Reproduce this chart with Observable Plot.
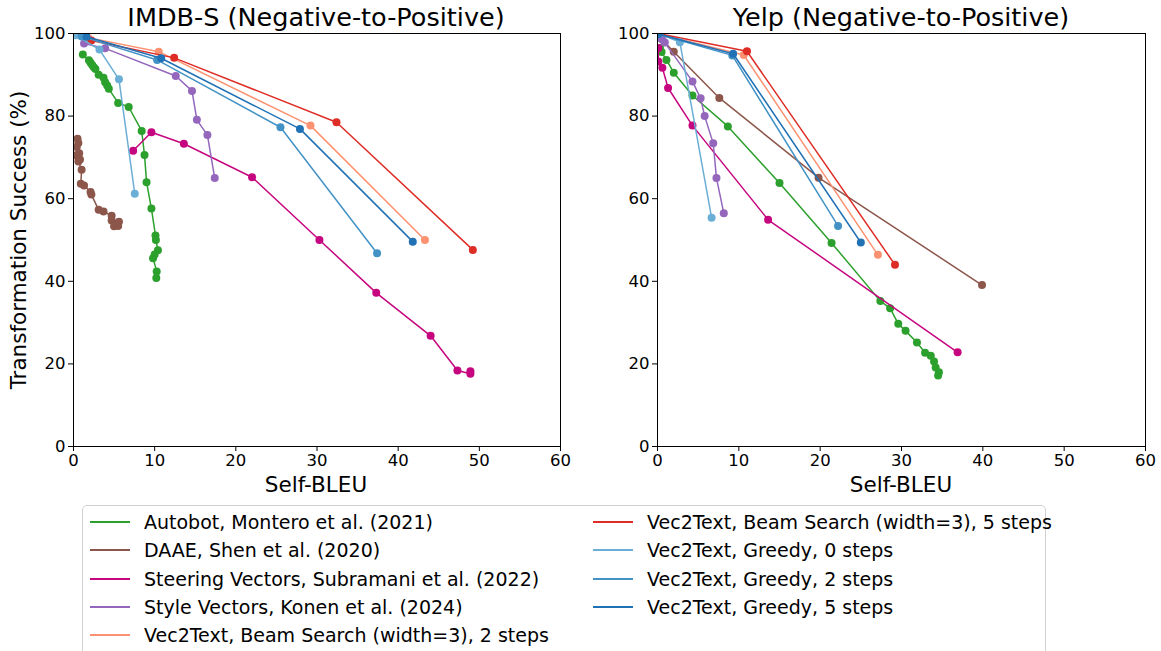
<!DOCTYPE html>
<html><head><meta charset="utf-8">
<script src="https://cdn.jsdelivr.net/npm/d3@7"></script>
<script src="https://cdn.jsdelivr.net/npm/@observablehq/plot@0.6"></script>
<style>
body{margin:0;background:#fff;font-family:"DejaVu Sans",sans-serif;}
#wrap{position:relative;width:1161px;height:651px;overflow:hidden;background:#fff;}
.abs{position:absolute;white-space:nowrap;color:#000;}
.title{font-size:25.5px;transform:translate(-50%,-50%);}
.xlab{font-size:21.5px;transform:translate(-50%,-50%);}
.ylab{font-size:21.5px;transform:translate(-50%,-50%) rotate(-90deg);}
#legend{position:absolute;left:82px;top:505px;width:964px;height:170px;border:1px solid #d0d0d0;border-radius:5px;box-sizing:border-box;background:#fff;}
.li{position:absolute;font-size:19px;line-height:20px;}
.li .sw{position:absolute;left:0;top:9px;width:40px;height:0;border-top:2px solid;}
.li .tx{position:absolute;left:54px;top:0;white-space:nowrap;}
</style></head><body><div id="wrap"></div>
<script>
// ---- series (legend order) ----
const seriesNames = [
  "Autobot, Montero et al. (2021)",
  "DAAE, Shen et al. (2020)",
  "Steering Vectors, Subramani et al. (2022)",
  "Style Vectors, Konen et al. (2024)",
  "Vec2Text, Beam Search (width=3), 2 steps",
  "Vec2Text, Beam Search (width=3), 5 steps",
  "Vec2Text, Greedy, 0 steps",
  "Vec2Text, Greedy, 2 steps",
  "Vec2Text, Greedy, 5 steps"
];
const seriesColors = ["#2ca02c","#8c564b","#c6067f","#9467bd","#fc9272","#de2d26","#6baed6","#4292c6","#2171b5"];

const xTicks = [0,10,20,30,40,50,60];
const yTicks = [0,20,40,60,80,100];
const panelTitles = ["IMDB-S (Negative-to-Positive)","Yelp (Negative-to-Positive)"];
const xLabel = "Self-BLEU";
const yLabel = "Transformation Success (%)";

// ---- IMDB-S: [Self-BLEU, Transformation Success] ----
const imdbAutobot = [[1.15,94.9],[1.9,93.5],[2.1,92.9],[2.3,92.4],[2.5,91.8],[2.7,91.4],[3.1,90.0],[3.7,89.3],[3.9,88.2],[4.15,87.4],[4.35,86.6],[5.5,83.2],[6.8,82.2],[8.4,76.4],[8.75,70.6],[9.0,64.0],[9.6,57.6],[10.1,51.1],[10.15,50.0],[10.4,47.5],[10.0,46.5],[9.8,45.6],[10.25,42.4],[10.2,40.8]];
const imdbDAAE = [[0.5,74.5],[0.6,73.5],[0.4,72.5],[0.7,71.0],[0.3,70.5],[0.8,69.5],[0.6,69.0],[1.0,67.0],[0.9,63.6],[1.3,63.2],[2.1,61.6],[2.2,61.0],[3.1,57.3],[3.7,56.9],[4.7,55.9],[4.7,54.7],[5.3,54.0],[5.0,53.3],[5.5,53.4],[5.6,54.4]];
const imdbSteering = [[7.35,71.6],[9.6,76.1],[13.6,73.3],[22.0,65.2],[30.3,50.0],[37.3,37.2],[44.0,26.8],[47.3,18.4],[48.9,17.6],[48.9,18.2]];
const imdbStyle = [[1.3,97.6],[3.9,96.4],[12.6,89.7],[14.6,86.1],[15.2,79.1],[16.5,75.4],[17.4,65.0]];
const imdbBeam2 = [[1.8,99.0],[10.5,95.6],[29.2,77.7],[43.3,50.0]];
const imdbBeam5 = [[2.2,98.3],[12.4,94.1],[32.4,78.5],[49.2,47.6]];
const imdbGreedy0 = [[0.25,99.6],[3.2,96.1],[5.6,88.9],[7.55,61.2]];
const imdbGreedy2 = [[1.0,99.3],[10.3,93.6],[25.5,77.3],[37.4,46.8]];
const imdbGreedy5 = [[1.6,99.2],[10.8,94.0],[27.9,76.9],[41.8,49.6]];

// ---- Yelp ----
const yelpAutobot = [[0.3,96.5],[0.5,95.5],[1.1,93.6],[2.0,90.5],[4.3,85.0],[8.65,77.5],[15.0,63.8],[21.4,49.3],[27.4,35.2],[28.6,33.5],[29.6,29.7],[30.5,28.0],[31.9,25.2],[32.9,22.7],[33.6,22.0],[34.0,20.6],[34.2,19.1],[34.6,18.0],[34.5,17.2]];
const yelpDAAE = [[0.3,99.0],[2.0,95.6],[7.6,84.4],[19.8,65.1],[39.9,39.1]];
const yelpSteering = [[0.1,96.5],[0.1,93.2],[0.6,91.7],[1.3,86.8],[4.3,77.7],[13.6,54.9],[36.9,22.8]];
const yelpStyle = [[0.3,99.0],[0.6,98.5],[0.9,97.8],[4.3,88.4],[5.3,84.3],[5.8,80.0],[6.85,73.4],[7.25,65.0],[8.15,56.5]];
const yelpBeam2 = [[0.1,99.9],[10.6,94.8],[27.1,46.4]];
const yelpBeam5 = [[0.1,100],[11.0,95.7],[29.2,44.0]];
const yelpGreedy0 = [[0.1,100],[2.75,97.9],[6.65,55.4]];
const yelpGreedy2 = [[0.1,99.8],[9.2,94.7],[22.2,53.4]];
const yelpGreedy5 = [[0.1,99.9],[9.3,95.1],[25.0,49.4]];

const imdbSeries = [imdbAutobot,imdbDAAE,imdbSteering,imdbStyle,imdbBeam2,imdbBeam5,imdbGreedy0,imdbGreedy2,imdbGreedy5];
const yelpSeries = [yelpAutobot,yelpDAAE,yelpSteering,yelpStyle,yelpBeam2,yelpBeam5,yelpGreedy0,yelpGreedy2,yelpGreedy5];

const wrap = document.getElementById("wrap");

function panel(seriesList, left, plotWidth) {
  const marks = [];
  seriesList.forEach((pts, i) => {
    const rows = pts.map(([x, y]) => ({x, y, name: seriesNames[i]}));
    marks.push(Plot.line(rows, {x: "x", y: "y", stroke: "name", strokeWidth: 1.5, clip: true}));
    marks.push(Plot.dot(rows, {x: "x", y: "y", fill: "name", r: 4, clip: true}));
  });
  const mL = 73, mR = 20;
  const svg = Plot.plot({
    width: mL + plotWidth + mR, height: 500,
    marginLeft: mL, marginRight: mR, marginTop: 33, marginBottom: 54,
    x: {domain: [0, 60], label: null},
    y: {domain: [0, 100], label: null},
    color: {domain: seriesNames, range: seriesColors},
    style: {fontFamily: "DejaVu Sans, sans-serif", fontSize: "16.5px", color: "black", background: "transparent", overflow: "visible"},
    marks: [
      Plot.axisX({ticks: xTicks, tickSize: 5, tickPadding: 3, fontSize: 16.5, label: null, stroke: "black"}),
      Plot.axisY({ticks: yTicks, tickSize: 5, tickPadding: 3, fontSize: 16.5, label: null, stroke: "black"}),
      ...marks,
      Plot.frame({stroke: "black", strokeWidth: 1})
    ]
  });
  svg.style.position = "absolute";
  svg.style.left = left + "px";
  svg.style.top = "0px";
  wrap.appendChild(svg);
}

panel(imdbSeries, 0, 487);
panel(yelpSeries, 584, 488);

function addText(cls, text, x, y) {
  const d = document.createElement("div");
  d.className = "abs " + cls;
  d.textContent = text;
  d.style.left = x + "px";
  d.style.top = y + "px";
  wrap.appendChild(d);
}
addText("title", panelTitles[0], 316, 17);
addText("title", panelTitles[1], 901, 17);
addText("xlab", xLabel, 316, 484);
addText("xlab", xLabel, 901, 484);
addText("ylab", yLabel, 18, 240);

// legend
const legend = document.createElement("div");
legend.id = "legend";
wrap.appendChild(legend);
seriesNames.forEach((name, i) => {
  const col = i < 5 ? 0 : 1;
  const row = i < 5 ? i : i - 5;
  const li = document.createElement("div");
  li.className = "li";
  li.style.left = (col === 0 ? 7 : 510) + "px";
  li.style.top = (6 + row * 28.3) + "px";
  const sw = document.createElement("div");
  sw.className = "sw";
  sw.style.borderTopColor = seriesColors[i];
  const tx = document.createElement("div");
  tx.className = "tx";
  tx.textContent = name;
  li.appendChild(sw); li.appendChild(tx);
  legend.appendChild(li);
});
</script></body></html>
